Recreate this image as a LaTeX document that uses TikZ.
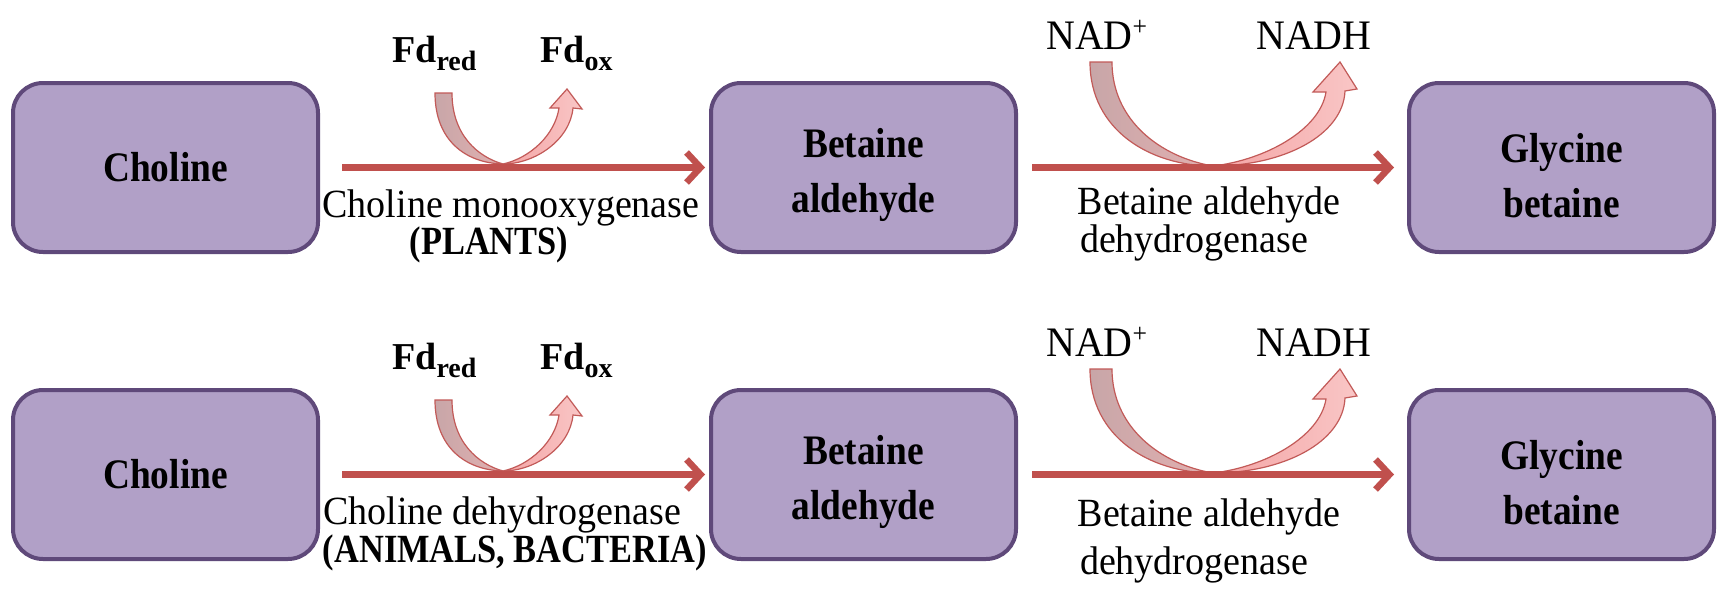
\documentclass[tikz,border=0pt]{standalone}
\usepackage{fontspec}
\setmainfont{Liberation Serif}
\newfontfamily\boxfont[FakeStretch=0.89]{Liberation Serif}
\newfontfamily\labfont[FakeStretch=0.95]{Liberation Serif}
\newfontfamily\capfont[FakeStretch=0.86]{Liberation Serif}
\newfontfamily\nadfont[FakeStretch=0.95]{Liberation Serif}
\usetikzlibrary{arrows.meta}
\definecolor{boxfill}{HTML}{B1A0C7}
\definecolor{boxdraw}{HTML}{5F497A}
\definecolor{arr}{HTML}{C0504D}
\definecolor{tailA}{HTML}{C8A6A8}
\definecolor{tailB}{HTML}{E2B0B0}
\definecolor{headA}{HTML}{F4A4A4}
\definecolor{headB}{HTML}{F9C6C6}
\definecolor{curvedraw}{HTML}{C25A58}
\tikzset{
  bx/.style={rounded corners=30pt, fill=boxfill, draw=boxdraw, line width=4pt,
    minimum width=305pt, minimum height=169pt, align=center, inner sep=0pt,
    font=\fontsize{42}{55}\selectfont\boxfont\bfseries},
  flow/.style={draw=arr, line width=6.5pt, -{Straight Barb[length=14pt,width=30pt]}},
  lab/.style={anchor=base, inner sep=0pt, font=\fontsize{40}{40}\selectfont\labfont},
  caplab/.style={anchor=base, inner sep=0pt, font=\fontsize{40}{40}\selectfont\capfont\bfseries},
  fd/.style={anchor=base west, inner sep=0pt, font=\fontsize{38}{38}\selectfont\bfseries},
  nad/.style={anchor=base west, inner sep=0pt, font=\fontsize{42}{42}\selectfont\nadfont},
  tail/.style={draw=curvedraw, line width=1.2pt, left color=tailA, right color=tailB},
  head/.style={draw=curvedraw, line width=1.2pt, left color=headA, right color=headB},
}
\newcommand{\fdsub}[1]{\raisebox{-8pt}{\fontsize{28}{28}\selectfont #1}}
\newcommand{\topstrut}{\rule{0pt}{45pt}}
\newcommand{\fdcurve}{%
  \path[tail] (435,93) .. controls (435,140) and (465,163) .. (503,164)
     .. controls (478,157) and (452,135) .. (452,93) -- cycle;
  \path[head] (503,164) .. controls (535,164) and (570,140) .. (573,108)
     -- (582,109) -- (567,89) -- (550,108) -- (559,108)
     .. controls (555,135) and (530,158) .. (503,164) -- cycle;}
\newcommand{\nadcurve}{%
  \path[tail] (1090,62) .. controls (1090,130) and (1150,166) .. (1213,166)
     .. controls (1160,157) and (1112,120) .. (1112,62) -- cycle;
  \path[head] (1213,166) .. controls (1284,166) and (1343,135) .. (1345,91)
     -- (1357,89) -- (1340,62) -- (1313,92) -- (1326,92)
     .. controls (1320,130) and (1265,160) .. (1213,166) -- cycle;}
\begin{document}
\begin{tikzpicture}[x=1pt,y=-1pt]
\useasboundingbox (0,0) rectangle (1727,592);
\fill[white] (0,0) rectangle (1727,592);
% ---- top row
\node[bx] (c1) at (165.5,167.5) {Choline};
\node[bx] (b1) at (863.5,167.5) {\topstrut Betaine\\aldehyde};
\node[bx] (g1) at (1561.5,167.5) {\topstrut Glycine\\betaine};
\fdcurve
\nadcurve
\draw[flow, shorten <=22pt, shorten >=4pt] (c1.east) -- (b1.west);
\draw[flow, shorten <=14pt, shorten >=13pt] (b1.east) -- (g1.west);
\node[fd] (fdr1) at (392,62) {Fd\fdsub{red}};
\node[fd] (fdo1) at (540,62) {Fd\fdsub{ox}};
\node[nad] (nadp1) at (1046,49) {NAD\raisebox{14pt}{\fontsize{27}{27}\selectfont +}};
\node[nad] (nadh1) at (1256,49) {NADH};
\node[lab] (e1a) at (511,217) {Choline monooxygenase};
\node[caplab] (e1b) at (489,254) {(PLANTS)};
\node[lab] (e2a) at (1209,214) {Betaine aldehyde};
\node[lab] (e2b) at (1194,252) {dehydrogenase};
% ---- bottom row
\node[bx] (c2) at (165.5,474.5) {Choline};
\node[bx] (b2) at (863.5,474.5) {\topstrut Betaine\\aldehyde};
\node[bx] (g2) at (1561.5,474.5) {\topstrut Glycine\\betaine};
\begin{scope}[shift={(0,307)}]
\fdcurve
\nadcurve
\end{scope}
\draw[flow, shorten <=22pt, shorten >=4pt] (c2.east) -- (b2.west);
\draw[flow, shorten <=14pt, shorten >=13pt] (b2.east) -- (g2.west);
\node[fd] (fdr2) at (392,369) {Fd\fdsub{red}};
\node[fd] (fdo2) at (540,369) {Fd\fdsub{ox}};
\node[nad] (nadp2) at (1046,356) {NAD\raisebox{14pt}{\fontsize{27}{27}\selectfont +}};
\node[nad] (nadh2) at (1256,356) {NADH};
\node[lab] (e3a) at (502,524) {Choline dehydrogenase};
\node[caplab] (e3b) at (515,562) {(ANIMALS, BACTERIA)};
\node[lab] (e4a) at (1209,526) {Betaine aldehyde};
\node[lab] (e4b) at (1194,574) {dehydrogenase};
\end{tikzpicture}
\end{document}
